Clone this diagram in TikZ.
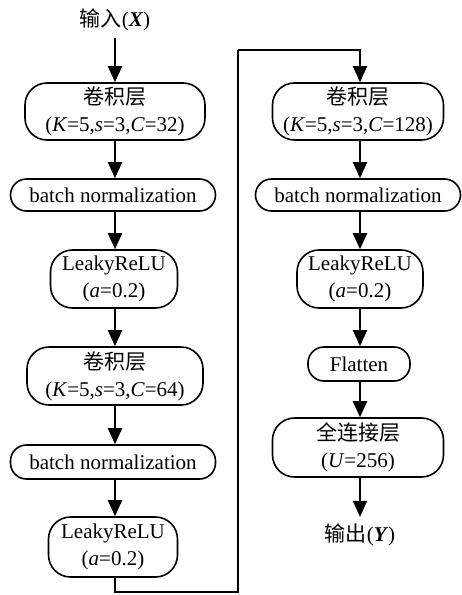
\documentclass[tikz,border=0pt]{standalone}
\usepackage{fontspec}
\setmainfont{Liberation Serif}
\newfontfamily\cjk{Noto Sans CJK SC}
\usepackage{tikz}
\usetikzlibrary{shapes,arrows,positioning,calc,arrows.meta}

\begin{document}
\begin{tikzpicture}[x=0.5pt,y=-0.5pt,
    blk/.style={draw, rounded corners=11pt, line width=0.8pt, align=center, inner sep=1pt,
        font=\fontsize{10.5}{13.5}\selectfont},
    blks/.style={blk, rounded corners=8pt},
    arr/.style={-{Triangle[length=8pt,width=7pt]}, line width=1pt},
    lbl/.style={font=\fontsize{10.5}{12}\selectfont}]
    \useasboundingbox (0,0) rectangle (461,595);

    % left column
    \node[lbl] (in) at (115,20) {{\cjk 输入}(\textbf{\textit{X}})};
    \node[blk, minimum width=90pt, minimum height=28.5pt] (c1) at (115,111.5) {{\cjk 卷积层}\\(\textit{K}=5,\textit{s}=3,\textit{C}=32)};
    \node[blks, minimum width=102.5pt, minimum height=16pt] (bn1) at (113,195) {batch normalization};
    \node[blk, minimum width=63.5pt, minimum height=29pt] (lr1) at (114,279) {LeakyReLU\\(\textit{a}=0.2)};
    \node[blk, minimum width=88pt, minimum height=29pt] (c2) at (115,376) {{\cjk 卷积层}\\(\textit{K}=5,\textit{s}=3,\textit{C}=64)};
    \node[blks, minimum width=102.5pt, minimum height=17pt] (bn2) at (113,462) {batch normalization};
    \node[blk, minimum width=64.5pt, minimum height=30pt] (lr2) at (113,547) {LeakyReLU\\(\textit{a}=0.2)};

    % right column
    \node[blk, minimum width=85.5pt, minimum height=28.5pt] (c3) at (358,111.5) {{\cjk 卷积层}\\(\textit{K}=5,\textit{s}=3,\textit{C}=128)};
    \node[blks, minimum width=102.5pt, minimum height=16pt] (bn3) at (358,195) {batch normalization};
    \node[blk, minimum width=63pt, minimum height=29pt] (lr3) at (360,279) {LeakyReLU\\(\textit{a}=0.2)};
    \node[blks, minimum width=51pt, minimum height=17pt] (fl) at (359,364) {Flatten};
    \node[blk, minimum width=85.5pt, minimum height=29.5pt] (fc) at (358,447.5) {{\cjk 全连接层}\\(\textit{U}=256)};
    \node[lbl] (out) at (360,535) {{\cjk 输出}(\textbf{\textit{Y}})};

    % arrows
    \draw[arr] (in.south -| c1.north) -- (c1.north);
    \draw[arr] (c1) -- (c1.south |- bn1.north);
    \draw[arr] (c1.south |- bn1.south) -- (c1.south |- lr1.north);
    \draw[arr] (c1.south |- lr1.south) -- (c1.south |- c2.north);
    \draw[arr] (c2) -- (c2.south |- bn2.north);
    \draw[arr] (c2.south |- bn2.south) -- (c2.south |- lr2.north);
    \coordinate (turn) at (238,50);
    \draw[line width=1pt] (c2.south |- lr2.south) |- (turn |- 0,592) -- (turn);
    \draw[arr] (turn) -| (lr3.north |- c3.north);
    \draw[arr] (lr3.north |- c3.south) -- (lr3.north |- bn3.north);
    \draw[arr] (lr3.north |- bn3.south) -- (lr3.north);
    \draw[arr] (lr3) -- (lr3.south |- fl.north);
    \draw[arr] (lr3.south |- fl.south) -- (lr3.south |- fc.north);
    \draw[arr] (lr3.south |- fc.south) -- (lr3.south |- out.north);
\end{tikzpicture}
\end{document}
